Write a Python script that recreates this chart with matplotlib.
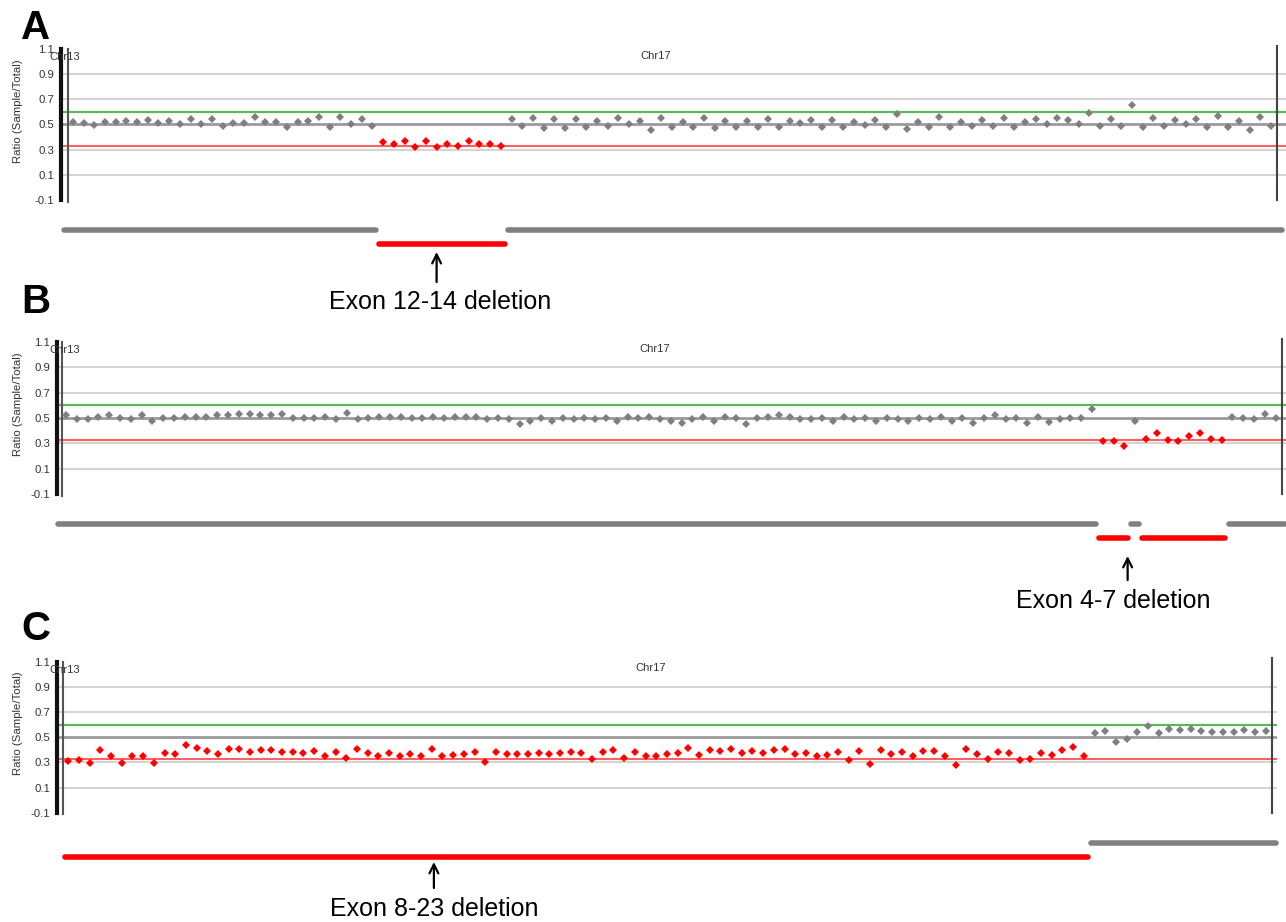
import matplotlib
matplotlib.use("Agg")
import matplotlib.pyplot as plt

plt.rcParams['font.family'] = ['Liberation Sans', 'DejaVu Sans']

W, H = 1286, 922

# ratio axis
yticks = [1.1, 0.9, 0.7, 0.5, 0.3, 0.1, -0.1]
ytick_labels = ['1.1', '0.9', '0.7', '0.5', '0.3', '0.1', '-0.1']
grid_levels = [0.9, 0.7, 0.3, 0.1]
mean_level = 0.5
gain_level = 0.6
loss_level = 0.33

# panel A
ratio_a = [0.518, 0.508, 0.497, 0.518, 0.518, 0.524, 0.518, 0.534, 0.510, 0.526,
           0.503, 0.545, 0.500, 0.545, 0.490, 0.510, 0.510, 0.555, 0.518, 0.518,
           0.480, 0.518, 0.524, 0.555, 0.476, 0.555, 0.503, 0.545, 0.484, 0.360,
           0.345, 0.368, 0.320, 0.370, 0.320, 0.347, 0.330, 0.370, 0.347, 0.347,
           0.330, 0.542, 0.484, 0.553, 0.468, 0.542, 0.468, 0.542, 0.476, 0.524,
           0.484, 0.553, 0.503, 0.524, 0.453, 0.553, 0.476, 0.518, 0.476, 0.553,
           0.468, 0.524, 0.476, 0.524, 0.476, 0.542, 0.476, 0.524, 0.510, 0.534,
           0.476, 0.534, 0.476, 0.518, 0.495, 0.534, 0.476, 0.580, 0.466, 0.518,
           0.476, 0.560, 0.476, 0.518, 0.487, 0.534, 0.487, 0.553, 0.476, 0.518,
           0.542, 0.500, 0.553, 0.534, 0.500, 0.592, 0.487, 0.542, 0.487, 0.650,
           0.476, 0.553, 0.487, 0.534, 0.500, 0.542, 0.476, 0.568, 0.476, 0.524,
           0.458, 0.560, 0.487]
deleted_a = list(range(29, 41))
segments_a = [(-1.0, 28.5, 'normal'), (28.5, 40.5, 'loss'), (40.5, 113.2, 'normal')]

# panel B
ratio_b = [0.52, 0.49, 0.49, 0.51, 0.52, 0.50, 0.49, 0.52, 0.48, 0.50,
           0.50, 0.51, 0.51, 0.51, 0.52, 0.52, 0.53, 0.53, 0.52, 0.52,
           0.53, 0.50, 0.50, 0.50, 0.51, 0.49, 0.54, 0.49, 0.50, 0.51,
           0.51, 0.51, 0.50, 0.50, 0.51, 0.50, 0.51, 0.51, 0.51, 0.49,
           0.50, 0.49, 0.45, 0.48, 0.50, 0.48, 0.50, 0.49, 0.50, 0.49,
           0.50, 0.48, 0.51, 0.50, 0.51, 0.49, 0.48, 0.46, 0.49, 0.51,
           0.48, 0.51, 0.50, 0.45, 0.50, 0.51, 0.52, 0.51, 0.49, 0.49,
           0.50, 0.48, 0.51, 0.49, 0.50, 0.48, 0.50, 0.49, 0.48, 0.50,
           0.49, 0.51, 0.48, 0.50, 0.46, 0.50, 0.52, 0.49, 0.50, 0.46,
           0.51, 0.47, 0.49, 0.50, 0.50, 0.57, 0.316, 0.316, 0.281, 0.479,
           0.331, 0.384, 0.324, 0.316, 0.358, 0.384, 0.331, 0.324, 0.508, 0.497,
           0.490, 0.534, 0.497]
deleted_b = [96, 97, 98] + list(range(100, 108))
segments_b = [(-0.85, 95.5, 'normal'), (95.5, 98.5, 'loss'), (98.5, 99.5, 'normal'),
              (99.5, 107.5, 'loss'), (107.5, 113.0, 'normal')]

# panel C
ratio_c = [0.313, 0.321, 0.297, 0.396, 0.348, 0.297, 0.348, 0.348, 0.297, 0.372,
           0.364, 0.441, 0.415, 0.388, 0.364, 0.407, 0.407, 0.380, 0.396, 0.396,
           0.380, 0.380, 0.372, 0.388, 0.348, 0.380, 0.337, 0.407, 0.372, 0.348,
           0.372, 0.348, 0.364, 0.348, 0.407, 0.348, 0.356, 0.364, 0.380, 0.305,
           0.380, 0.364, 0.364, 0.364, 0.372, 0.364, 0.372, 0.380, 0.372, 0.329,
           0.380, 0.396, 0.337, 0.380, 0.348, 0.348, 0.364, 0.372, 0.415, 0.356,
           0.396, 0.388, 0.407, 0.372, 0.388, 0.372, 0.396, 0.407, 0.364, 0.372,
           0.348, 0.356, 0.380, 0.321, 0.388, 0.289, 0.396, 0.364, 0.380, 0.348,
           0.388, 0.388, 0.348, 0.279, 0.407, 0.364, 0.329, 0.380, 0.372, 0.321,
           0.329, 0.372, 0.356, 0.396, 0.423, 0.348, 0.529, 0.548, 0.463, 0.487,
           0.537, 0.587, 0.529, 0.563, 0.556, 0.563, 0.548, 0.537, 0.537, 0.537,
           0.556, 0.537, 0.548]
deleted_c = list(range(0, 96))
segments_c = [(-0.95, -0.6, 'normal'), (-0.5, 95.5, 'loss'), (95.5, 113.1, 'normal')]

# panel geometry in pixels: left, right, top, bottom, first probe, probe step, inner line, right line
panels = [
    ('A', ratio_a, deleted_a, segments_a, 'Exon 12-14 deletion', 34.0, 34.3,
     (61, 1286, 48.7, 200, 72.8, 10.70, 68, 1277), 39, (-0.344, -0.542, -0.675)),
    ('B', ratio_b, deleted_b, segments_b, 'Exon 4-7 deletion', 98.3, 97.0,
     (57, 1286, 342, 494, 66.0, 10.80, 62, 1282), 313, (-0.408, -0.566, -0.705)),
    ('C', ratio_c, deleted_c, segments_c, 'Exon 8-23 deletion', 34.2, 34.2,
     (57, 1277, 661.5, 812.7, 68.3, 10.69, 63, 1272), 640, (-0.326, -0.498, -0.635)),
]

seg_style = {'normal': ('#808080', -0.2), 'loss': ('#ff0000', -0.29)}

fig = plt.figure(figsize=(W / 100, H / 100), dpi=100)

for letter, ratio, deleted, segments, label, arrow_x, text_x, geo, letter_y, ann_y in panels:
    left, right, top, bottom, p0, step, inner, rline = geo
    ax = fig.add_axes([left / W, 1 - bottom / H, (right - left) / W, (bottom - top) / H])
    ax.set_xlim((left - p0) / step, (right - p0) / step)
    ax.set_ylim(-0.1, 1.1)
    for s in ['top', 'right', 'bottom']:
        ax.spines[s].set_visible(False)
    ax.spines['left'].set_linewidth(3)
    ax.spines['left'].set_color('#111111')
    ax.set_xticks([])
    ax.set_yticks(yticks)
    ax.set_yticklabels(ytick_labels)
    ax.tick_params(axis='y', length=0, pad=5, labelsize=8.2, labelcolor='#333333')

    for g in grid_levels:
        ax.axhline(g, color='#d4d4d4', lw=1.5, zorder=1)
    ax.axhline(mean_level, color='#9a9a9a', lw=2, zorder=1)
    ax.axhline(gain_level, color='#5cb85c', lw=1.6, zorder=1)
    ax.axhline(loss_level, color='#ff6060', lw=1.5, zorder=1)

    ax.axvline((inner - p0) / step, ymin=-0.01, ymax=1.0, color='#555555', lw=1.5, clip_on=False)
    ax.axvline((rline - p0) / step, ymin=0.0, ymax=1.02, color='#444444', lw=1.5, clip_on=False)

    xs = list(range(len(ratio)))
    gx = [i for i in xs if i not in deleted]
    ax.plot(gx, [ratio[i] for i in gx], 'D', color='#7f7f7f', ms=4.3, mew=0, zorder=3)
    ax.plot(deleted, [ratio[i] for i in deleted], 'D', color='#ff0000', ms=4.3, mew=0, zorder=3)

    ax.text((49 - p0) / step, 1.035, 'Chr13', fontsize=8, color='#333333', va='center',
            ha='left', clip_on=False)
    ax.text(54.5, 1.045, 'Chr17', fontsize=8, color='#333333', va='center', ha='center')

    tr = ax.get_xaxis_transform()
    for x0, x1, kind in segments:
        c, yy = seg_style[kind]
        ax.plot([x0 + 0.15, x1 - 0.15], [yy, yy], color=c, lw=4, solid_capstyle='round',
                transform=tr, clip_on=False)

    ax.annotate('', xy=(arrow_x, ann_y[0]), xytext=(arrow_x, ann_y[1]),
                xycoords=tr, textcoords=tr,
                arrowprops=dict(arrowstyle='->', lw=1.6, color='black', mutation_scale=16,
                                shrinkA=0, shrinkB=0))
    ax.text(text_x, ann_y[2], label, transform=tr, fontsize=18, ha='center', va='center')

    fig.text(21 / W, 1 - letter_y / H, letter, fontsize=29, fontweight='bold',
             ha='left', va='baseline')
    fig.text(18 / W, 1 - (top + 62) / H, 'Ratio (Sample/Total)', rotation=90,
             fontsize=8.2, color='#333333', ha='center', va='center')

fig.savefig('out.png', dpi=100)
